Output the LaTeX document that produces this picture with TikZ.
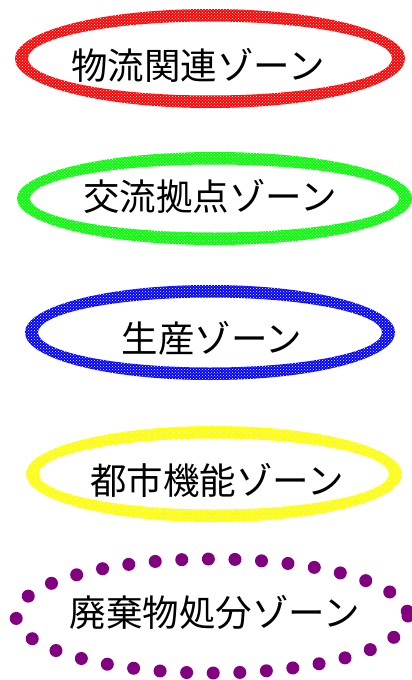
\documentclass[tikz,border=0pt]{standalone}
\usepackage{fontspec}
\newfontfamily\cjk{Noto Sans CJK JP}
\usetikzlibrary{patterns}
\definecolor{zred}{HTML}{FF0000}
\definecolor{zgreen}{HTML}{00FF00}
\definecolor{zblue}{HTML}{0000FF}
\definecolor{zyellow}{HTML}{FFFF00}
\definecolor{zpurple}{HTML}{800080}
\newcommand\zoneoval[4]{%
  \fill[#1, even odd rule] (#2) ellipse [x radius=#3, y radius=#4] ellipse [x radius=#3-13, y radius=#4-12.5];
  \fill[pattern=crosshatch dots, pattern color=white, even odd rule] (#2) ellipse [x radius=#3, y radius=#4] ellipse [x radius=#3-13, y radius=#4-12.5];}
\tikzset{zonelabel/.style={font=\cjk\fontsize{36.5}{42}\selectfont, inner sep=0pt, text=black}}
\begin{document}
\begin{tikzpicture}[x=1pt,y=-1pt]
\useasboundingbox (0,0) rectangle (412,680);
\coordinate (c1) at (210,58.5);
\coordinate (c2) at (214.5,198.5);
\coordinate (c3) at (210,332.5);
\coordinate (c4) at (214,474);
\coordinate (c5) at (212,616);
\zoneoval{zred}{c1}{195}{49.5}
\zoneoval{zgreen}{c2}{197.5}{46.5}
\zoneoval{zblue}{c3}{185}{47.5}
\zoneoval{zyellow}{c4}{188}{48}
\draw[zpurple, line width=13, line cap=round, dash pattern=on 0pt off 26.6pt] (c5) ellipse [x radius=196, y radius=57];
\node[zonelabel] (t1) at (198,65) {物流関連ゾーン};
\node[zonelabel] (t2) at (210,196) {交流拠点ゾーン};
\node[zonelabel] (t3) at (212,338) {生産ゾーン};
\node[zonelabel] (t4) at (217,480) {都市機能ゾーン};
\node[zonelabel] (t5) at (215,612) {廃棄物処分ゾーン};
\end{tikzpicture}
\end{document}
